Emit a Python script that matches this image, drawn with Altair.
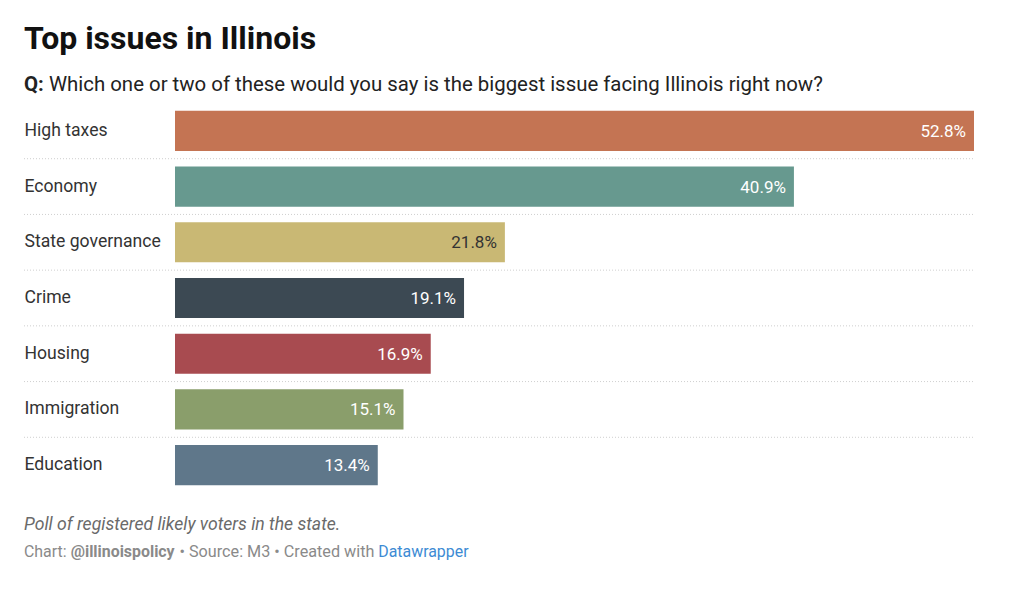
import altair as alt
import pandas as pd

categories = ["High taxes", "Economy", "State governance", "Crime", "Housing", "Immigration", "Education"]
values = [52.8, 40.9, 21.8, 19.1, 16.9, 15.1, 13.4]
bar_colors = ["#c47453", "#67998f", "#c9b874", "#3c4953", "#a84b50", "#8a9e6b", "#5f778a"]
label_colors = ["#ffffff", "#ffffff", "#333333", "#ffffff", "#ffffff", "#ffffff", "#ffffff"]

TITLE = "Top issues in Illinois"
SUB_BOLD = "Q:"
SUB_TEXT = "Which one or two of these would you say is the biggest issue facing Illinois right now?"
NOTE = "Poll of registered likely voters in the state."
CREDIT_1 = "Chart:"
CREDIT_2 = "@illinoispolicy"
CREDIT_3 = "• Source: M3 • Created with"
CREDIT_4 = "Datawrapper"

FONT = "Roboto"
W, H = 799, 390

df = pd.DataFrame({
    "cat": categories,
    "val": values,
    "lab": [f"{v:.1f}%" for v in values],
    "tc": label_colors,
    "idx": list(range(len(categories))),
})

yaxis = alt.Axis(title=None, labelAlign="left", labelPadding=151, ticks=False, domain=False,
                 labelFontSize=17.6, labelColor="#333333", labelFont=FONT, grid=False)
yscale = alt.Scale(paddingInner=0, paddingOuter=0)
y_enc = alt.Y("cat:N", sort=categories, scale=yscale, axis=yaxis)
x_enc = alt.X("val:Q", scale=alt.Scale(domain=[0, max(values)], nice=False, zero=True), axis=None)

base = alt.Chart(df)

sep = base.transform_filter(alt.datum.idx < len(categories) - 1).mark_rule(
    color="#cfcfcf", strokeDash=[1, 2], strokeWidth=1
).encode(
    y=alt.Y("cat:N", sort=categories, scale=yscale, axis=yaxis, bandPosition=1),
    x=alt.value(-151), x2=alt.value(W),
)

bars = base.mark_bar(height={"band": 0.72}).encode(
    y=y_enc, x=x_enc,
    color=alt.Color("cat:N", scale=alt.Scale(domain=categories, range=bar_colors), legend=None),
)

vals = base.mark_text(align="right", baseline="middle", dx=-8, dy=1, fontSize=17, font=FONT).encode(
    y=y_enc, x=x_enc, text="lab:N", color=alt.Color("tc:N", scale=None),
)

def txt(s, x, y, size, color, weight="normal", style="normal"):
    return alt.Chart(pd.DataFrame({"t": [s]})).mark_text(
        align="left", baseline="alphabetic", fontSize=size, font=FONT, color=color,
        fontWeight=weight, fontStyle=style,
    ).encode(text="t:N", x=alt.value(x), y=alt.value(y))

texts = [
    txt(TITLE, -151, -54, 32, "#111111", weight="bold"),
    txt(SUB_BOLD, -151, -12.5, 20.4, "#222222", weight="bold"),
    txt(SUB_TEXT, -126, -12.5, 20.4, "#222222"),
    txt(NOTE, -151, 427, 17.6, "#6a6a6a", style="italic"),
    txt(CREDIT_1, -151, 453.5, 15.9, "#8a8a8a"),
    txt(CREDIT_2, -104.3, 453.5, 15.9, "#8a8a8a", weight="bold"),
    txt(CREDIT_3, 4.5, 453.5, 16.2, "#8a8a8a"),
    txt(CREDIT_4, 203.3, 453.5, 15.9, "#3d8bd4"),
]

chart = alt.layer(sep, bars, vals, *texts).properties(
    width=W, height=H,
    autosize=alt.AutoSizeParams(type="none"),
    padding={"left": 167, "top": 95, "right": 42, "bottom": 75},
).configure(font=FONT).configure_view(stroke=None, strokeWidth=0)

chart.save("out.html", embed_options={"renderer": "svg", "actions": False})
